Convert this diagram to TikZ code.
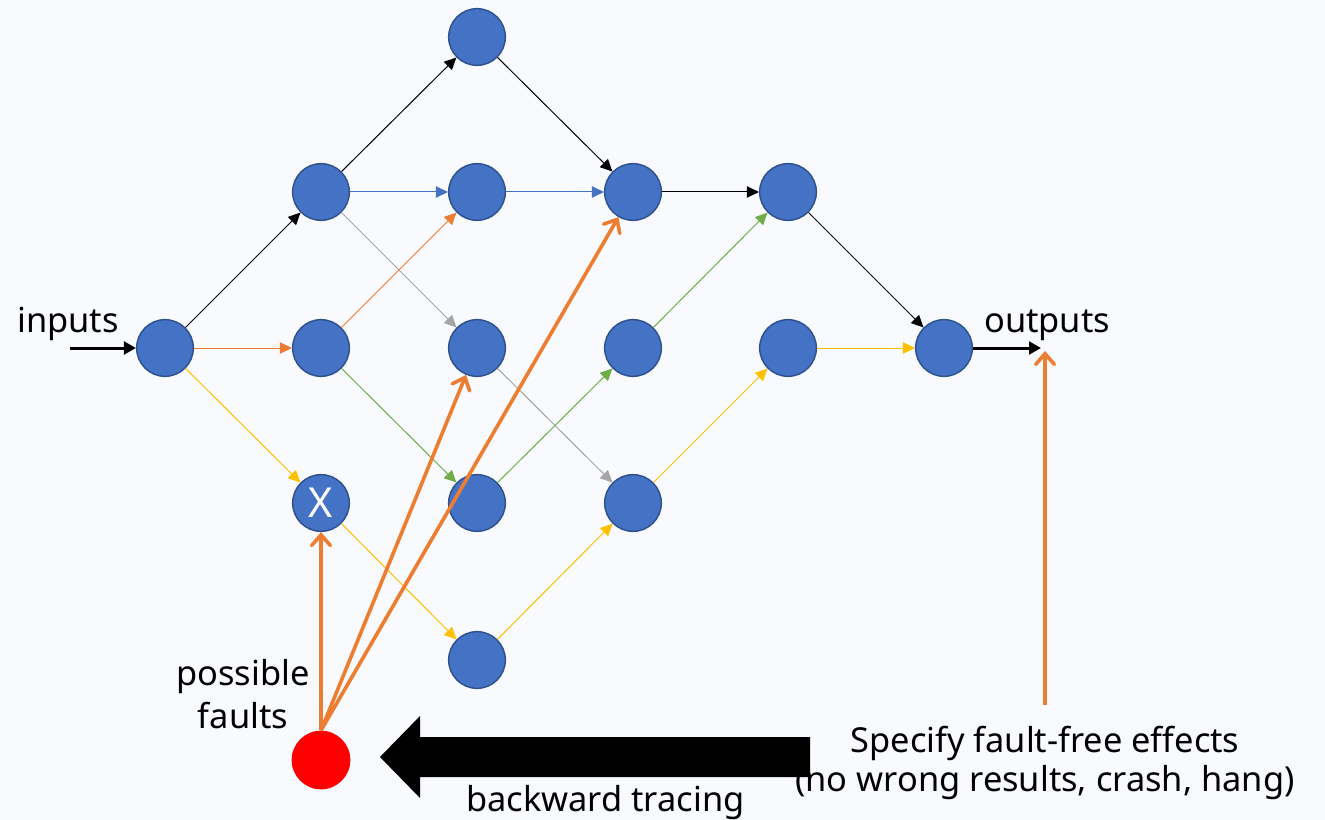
\documentclass[tikz,border=0pt]{standalone}
\usepackage{fontspec}
\setmainfont{Noto Sans}
\usetikzlibrary{arrows.meta}
\definecolor{bgcol}{RGB}{248,250,253}
\definecolor{nodefill}{RGB}{68,114,196}
\definecolor{nodeline}{RGB}{47,82,143}
\definecolor{eorange}{RGB}{237,125,49}
\definecolor{eyellow}{RGB}{255,192,0}
\definecolor{egreen}{RGB}{112,173,71}
\definecolor{egray}{RGB}{165,165,165}
\definecolor{eblue}{RGB}{68,114,196}
\tikzset{
  unit/.style={circle,fill=nodefill,draw=nodeline,line width=1.1pt,
    minimum size=42.5pt,inner sep=0pt,text=white,
    font=\fontsize{31}{31}\selectfont},
  fault/.style={circle,fill=red,minimum size=44pt,inner sep=0pt},
  link/.style={line width=0.75pt,-{Triangle[length=9pt,width=8.5pt]}},
  bold/.style={line width=2.25pt,-{Triangle[length=9pt,width=9.5pt]}},
  trace/.style={eorange,line width=2.7pt,
    -{Straight Barb[length=8pt,width=14pt,line cap=round]}},
  label/.style={inner sep=0pt,font=\fontsize{25.8}{30}\selectfont}
}
\begin{document}
\begin{tikzpicture}[x=0.75pt,y=-0.75pt]
  % canvas
  \fill[bgcol] (0,0) rectangle (1325,820);
  \useasboundingbox (0,0) rectangle (1325,820);

  % network units
  \node[unit] (n0) at (165,348) {};
  \node[unit] (a1) at (321,192) {};
  \node[unit] (a2) at (321,348) {};
  \node[unit] (ax) at (321,503) {X};
  \node[unit] (b0) at (477,37) {};
  \node[unit] (b1) at (477,192) {};
  \node[unit] (b2) at (477,348) {};
  \node[unit] (b3) at (477,503) {};
  \node[unit] (b4) at (477,660) {};
  \node[unit] (c1) at (633,192) {};
  \node[unit] (c2) at (633,348) {};
  \node[unit] (c3) at (633,503) {};
  \node[unit] (d1) at (788,192) {};
  \node[unit] (d2) at (788,348) {};
  \node[unit] (no) at (944,348) {};
  \node[fault] (f) at (321,760) {};

  % data flow between units
  \draw[link,black]   (n0) -- (a1);
  \draw[link,eorange] (n0) -- (a2);
  \draw[link,eyellow] (n0) -- (ax);
  \draw[link,black]   (a1) -- (b0);
  \draw[link,eblue]   (a1) -- (b1);
  \draw[link,egray]   (a1) -- (b2);
  \draw[link,eorange] (a2) -- (b1);
  \draw[link,egreen]  (a2) -- (b3);
  \draw[link,eyellow] (ax) -- (b4);
  \draw[link,black]   (b0) -- (c1);
  \draw[link,eblue]   (b1) -- (c1);
  \draw[link,egray]   (b2) -- (c3);
  \draw[link,egreen]  (b3) -- (c2);
  \draw[link,eyellow] (b4) -- (c3);
  \draw[link,black]   (c1) -- (d1);
  \draw[link,egreen]  (c2) -- (d1);
  \draw[link,eyellow] (c3) -- (d2);
  \draw[link,black]   (d1) -- (no);
  \draw[link,eyellow] (d2) -- (no);

  % external input and output
  \coordinate (inp) at (70,348);
  \coordinate (outp) at (1041,348);
  \draw[bold] (inp) -- (n0);
  \draw[bold] (no) -- (outp);
  \node[label,anchor=base west] (tin) at (17,332) {inputs};
  \node[label,anchor=base west] (tout) at (984,332) {outputs};

  % tracing back from the fault
  \draw[trace] (f.north) -- (ax);
  \draw[trace] (f.north) -- (b2);
  \draw[trace] (f.north) -- (c1);
  \coordinate (effbase) at (1045,705);
  \coordinate (efftip) at (1045,351);
  \draw[trace] (effbase) -- (efftip);

  % block arrow
  \fill[black] (810,737) -- (420,737) -- (420,716) -- (380,757)
    -- (420,798) -- (420,777) -- (810,777) -- cycle;

  % labels
  \node[label,anchor=base] (pf1) at (243,685) {possible};
  \node[label,anchor=base] (pf2) at (243,728) {faults};
  \node[label,anchor=base] (sp1) at (1045,752) {Specify fault-free effects};
  \node[label,anchor=base] (sp2) at (1045,791) {(no wrong results, crash, hang)};
  \node[label,anchor=base west] (bt) at (466,811) {backward tracing};
\end{tikzpicture}
\end{document}
